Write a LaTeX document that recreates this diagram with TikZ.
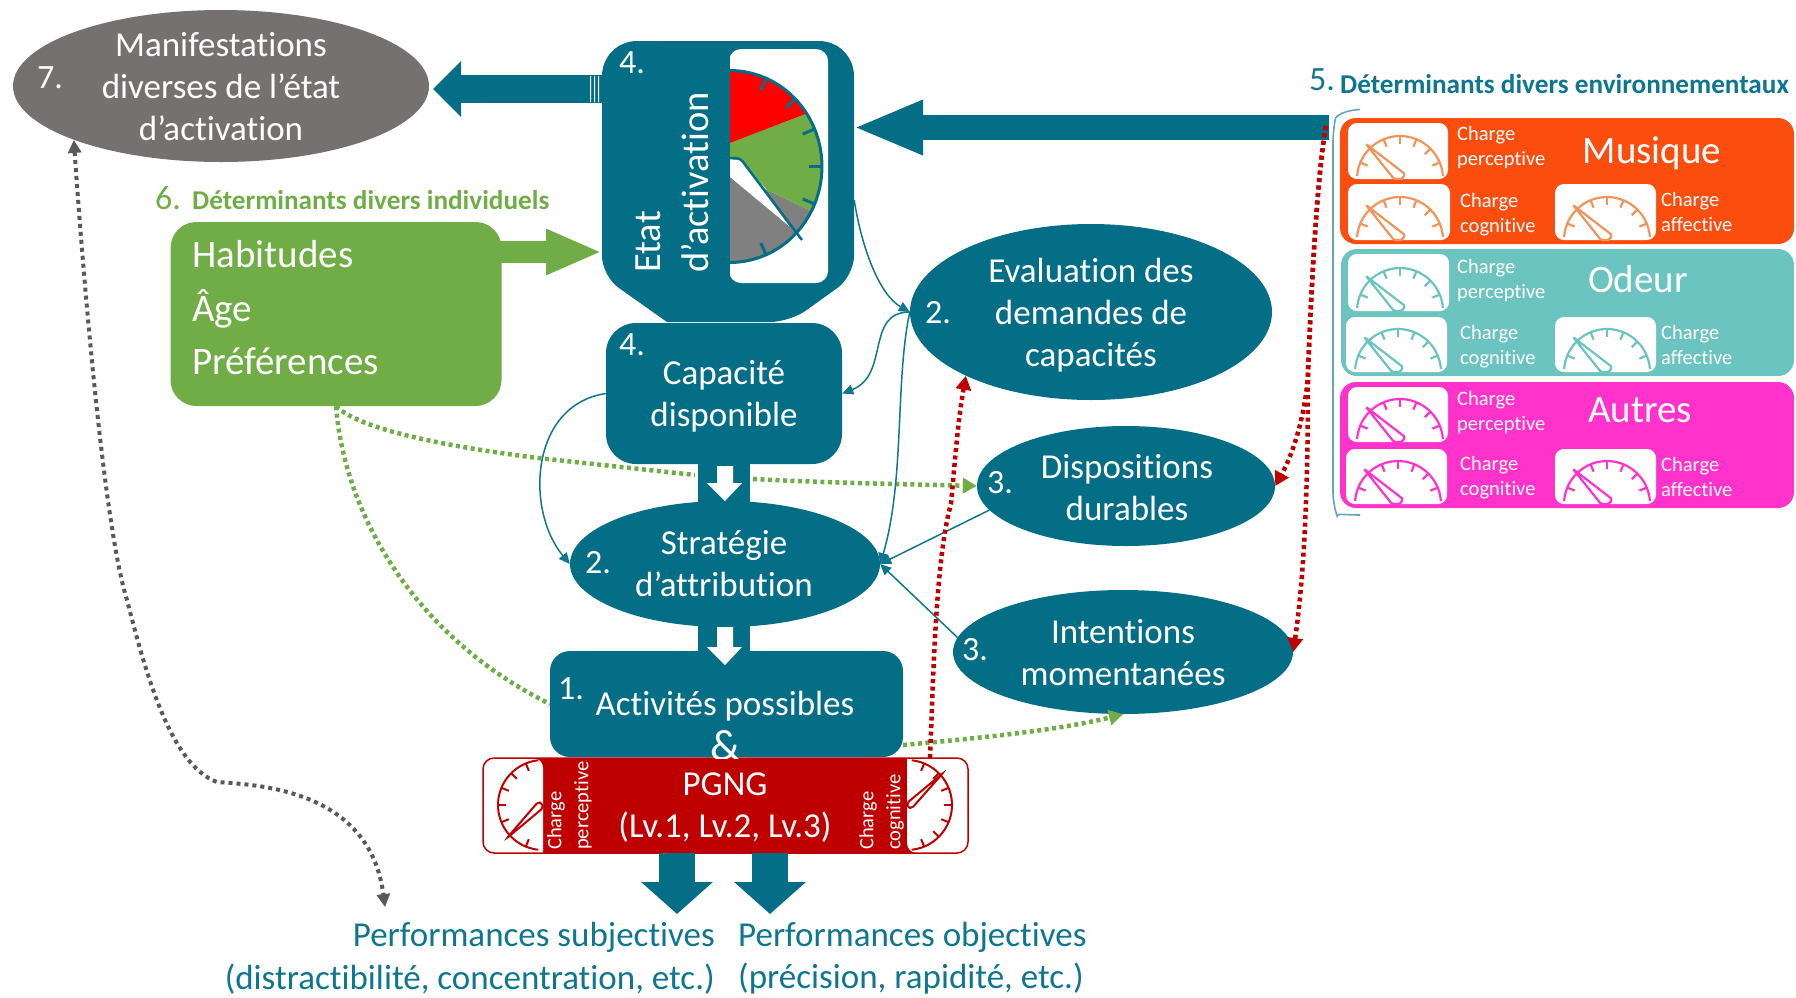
\documentclass[tikz,border=0pt]{standalone}
\usepackage{fontspec}
\setmainfont[Ligatures=NoCommon]{Carlito}
\usetikzlibrary{shapes.geometric,arrows.meta}
\definecolor{tealD}{HTML}{056E87}
\definecolor{tealT}{HTML}{0F7690}
\definecolor{tealL}{HTML}{6CC4C0}
\definecolor{grayE}{HTML}{767171}
\definecolor{greenH}{HTML}{70AD47}
\definecolor{redP}{HTML}{BF0000}
\definecolor{orangeM}{HTML}{FA4D0E}
\definecolor{orangeG}{HTML}{F0955A}
\definecolor{pinkA}{HTML}{FF33CC}
\definecolor{grayD}{HTML}{595959}
\newcommand{\fs}[2]{\fontsize{#1}{#2}\selectfont}
% panel with a half-round dial: x1,y1,x2,y2,colour
\newcommand{\dialpanel}[5]{%
  \fill[white,rounded corners=9] (#1,#2) rectangle (#3,#4);
  \begin{scope}[shift={(#1+52,#4)}]
    \draw[#5,line width=2.2] plot[domain=176:4,samples=30] ({43*cos(\x)},{-43*sin(\x)});
    \foreach \a in {22.5,45,67.5,90,112.5,157.5}
      \draw[#5,line width=2.2] ({43*cos(\a)},{-43*sin(\a)}) -- ({35*cos(\a)},{-35*sin(\a)});
    \draw[#5,line width=2.2,fill=white,rounded corners=1.5] (-34,-35) -- (5,-5) -- (2,0) -- (-6,0) -- cycle;
  \end{scope}}
\tikzset{
  blk/.style={fill=tealD,rounded corners=#1,inner sep=0,text=white},
  ell/.style={ellipse,fill=tealD,inner sep=0,text=white},
  bodytxt/.style={text=white,align=center,font=\fs{35}{42},inner sep=0},
  numtxt/.style={text=white,font=\fs{34}{38},inner sep=0},
  chg/.style={text=white,align=left,anchor=west,font=\fs{20.5}{25},inner sep=0},
  titl/.style={text=white,font=\fs{39}{40},inner sep=0},
  perf/.style={text=tealT,font=\fs{35}{42},inner sep=0},
  thinlink/.style={draw=tealT,line width=1.5,-{Triangle[length=11pt,width=10pt]}},
  reddot/.style={draw=redP,line width=4.5,dash pattern=on 4pt off 3.5pt,-{Triangle[length=14pt,width=15pt]}},
  greendot/.style={draw=greenH,line width=4.5,dash pattern=on 4pt off 3.5pt},
  graydot/.style={draw=grayD,line width=4,dash pattern=on 4pt off 4pt,{Triangle[length=13pt,width=13pt]}-{Triangle[length=13pt,width=13pt]}},
  blockarrow/.style={draw=tealD,line width=#1}
}
\begin{document}
\begin{tikzpicture}[x=1pt,y=-1pt]
\useasboundingbox (0,0) rectangle (1796,997);

% ---- named anchors
\coordinate (etatW) at (602,89);
\coordinate (manifT) at (433,89);
\coordinate (etatE) at (853,127.5);
\coordinate (envS) at (1329,127.5);
\coordinate (habS) at (500,252);
\coordinate (habT) at (602,252);
\coordinate (redS) at (930,758);
\coordinate (actG) at (903,745);
\coordinate (redF) at (1326,126);
\coordinate (brT) at (1360,109.5);
\coordinate (brB) at (1360,515);

% ---- nodes
\node[ell,fill=grayE,minimum width=416,minimum height=152] (manif) at (221,86) {};
\node[rectangle,fill=greenH,rounded corners=26,minimum width=331,minimum height=184,inner sep=0] (hab) at (336,314) {};
\node[ell,minimum width=362,minimum height=176] (eval) at (1091,312) {};
\node[ell,minimum width=298,minimum height=120] (disp) at (1126,486) {};
\node[ell,minimum width=340,minimum height=124] (intent) at (1123,652) {};

% ---- dotted green links (under the central column)
\draw[greendot] (hab.south) .. controls (360,430) and (450,447) .. (538,458) -- (695,475);
\draw[greendot,-{Triangle[length=14pt,width=15pt]}] (753,479) .. controls (830,483) and (900,484) .. (disp.west);
\draw[greendot] (hab.south) .. controls (345,520) and (420,640) .. (550,704);
\draw[greendot,-{Triangle[length=14pt,width=15pt]}] (actG) .. controls (980,738) and (1060,730) .. (intent.south);

% ---- central column
\fill[tealD] (698,460) rectangle (750,506);
\fill[tealD] (698,620) rectangle (750,655);
\node[blk=30,minimum width=236,minimum height=141] (cap) at (724,393.5) {};
\node[ell,minimum width=310,minimum height=126] (strat) at (725,564) {};
\node[blk=20,minimum width=353,minimum height=106] (act) at (726.5,704) {};
\fill[white] (717,466) -- (733,466) -- (733,483) -- (742,483) -- (725,501) -- (707,483) -- (717,483) -- cycle;
\fill[white] (717,627) -- (733,627) -- (733,647) -- (742,647) -- (725,665) -- (707,647) -- (717,647) -- cycle;

% ---- etat d'activation shape
\node[minimum width=252,minimum height=281,inner sep=0] (etat) at (728,181.5) {};
\fill[tealD] [rounded corners=35] (602,200) -- (602,41) -- (854,41) -- (854,200)
  [rounded corners=20] -- (854,276) -- (790,322) [sharp corners] -- (667,322)
  [rounded corners=20] -- (602,276) -- cycle;
\fill[white,rounded corners=12] (729,49) rectangle (828,283);
\fill[tealD] (722,49) rectangle (730,283);
% gauge sectors
\fill[gray] (767,190) -- plot[domain=-27.7:-90,samples=20] ({730+92*cos(\x)},{166.5-96*sin(\x)}) -- (730,177) -- cycle;
\fill[greenH] (730,143) -- plot[domain=33.5:-27.7,samples=20] ({730+92*cos(\x)},{166.5-96*sin(\x)}) -- (767,190) -- (745,165) -- (730,158) -- cycle;
\fill[red] (730,143) -- plot[domain=90:33.5,samples=20] ({730+92*cos(\x)},{166.5-96*sin(\x)}) -- cycle;
\draw[tealD,line width=3] plot[domain=90:-90,samples=40] ({730+92*cos(\x)},{166.5-96*sin(\x)});
\foreach \a in {67,45,23,0,-23,-67}
  \draw[tealD,line width=3] ({730+92*cos(\a)},{166.5-96*sin(\a)}) -- ({730+79*cos(\a)},{166.5-83*sin(\a)});
\fill[white] (730,160) -- (741,160) -- (789,226) -- (730,177) -- cycle;
\draw[tealD,line width=2.5,rounded corners=4] (730,158) -- (740,158) -- (802,240);

% ---- red PGNG box
\node[rectangle,fill=redP,rounded corners=11,minimum width=485,minimum height=95,inner sep=0] (pgng) at (725.5,805.5) {};
\fill[white,rounded corners=10] (483,758) -- (543,758) [sharp corners] -- (543,853) [rounded corners=10] -- (483,853) -- cycle;
\fill[white,rounded corners=10] (907,758) -- (968,758) -- (968,853) -- (907,853) [sharp corners] -- cycle;
\draw[redP,line width=1.5,rounded corners=11] (483,758) rectangle (968,853);
\begin{scope}[shift={(543,805)}]
  \draw[redP,line width=2] plot[domain=96:264,samples=30] ({45*cos(\x)},{-45*sin(\x)});
  \foreach \a in {112.5,135,157.5,180,202.5,247.5}
    \draw[redP,line width=2] ({45*cos(\a)},{-45*sin(\a)}) -- ({37*cos(\a)},{-37*sin(\a)});
  \draw[redP,line width=2,fill=white,rounded corners=2] (-36,33) -- (-5,-3) -- (-1,-2) -- (0,3) -- cycle;
\end{scope}
\begin{scope}[shift={(907,805)}]
  \draw[redP,line width=2] plot[domain=84:-84,samples=30] ({45*cos(\x)},{-45*sin(\x)});
  \foreach \a in {67.5,45,22.5,0,-22.5,-45,-67.5}
    \draw[redP,line width=2] ({45*cos(\a)},{-45*sin(\a)}) -- ({37*cos(\a)},{-37*sin(\a)});
  \draw[redP,line width=2,fill=white,rounded corners=2] (36,-32) -- (5,3) -- (1,3) -- (0,-2) -- cycle;
\end{scope}

% ---- right blocks
\node[rectangle,fill=orangeM,rounded corners=16,minimum width=454,minimum height=126,inner sep=0] (bm) at (1567,181) {};
\node[rectangle,fill=tealL,rounded corners=16,minimum width=453,minimum height=127,inner sep=0] (bo) at (1567.5,312.5) {};
\node[rectangle,fill=pinkA,rounded corners=16,minimum width=454,minimum height=126,inner sep=0] (ba) at (1567,445) {};
\dialpanel{1348}{123}{1448}{179}{orangeG}
\dialpanel{1348}{184}{1450}{240}{orangeG}
\dialpanel{1555}{184}{1656}{240}{orangeG}
\dialpanel{1348}{254}{1449}{311}{tealL}
\dialpanel{1346}{317}{1447}{372}{tealL}
\dialpanel{1555}{317}{1656}{372}{tealL}
\dialpanel{1348}{387}{1448}{442}{pinkA}
\dialpanel{1346}{449}{1447}{504}{pinkA}
\dialpanel{1555}{449}{1656}{504}{pinkA}

% ---- block arrows
\draw[blockarrow=28,-{Triangle[length=28pt,width=54pt]}] (etatW) -- (manifT);
\fill[white] (590,76) rectangle (591,102) (594,76) rectangle (595,102) (598,76) rectangle (599,102);
\draw[blockarrow=25,-{Triangle[length=70pt,width=50pt]}] (envS) -- (etatE);
\draw[draw=greenH,line width=22,-{Triangle[length=56pt,width=42pt]}] (habS) -- (habT);
\coordinate (d1) at (677,853); \coordinate (d1t) at (677,914);
\coordinate (d2) at (770,853); \coordinate (d2t) at (770,914);
\draw[blockarrow=36,-{Triangle[length=32pt,width=70pt]}] (d1) -- (d1t);
\draw[blockarrow=36,-{Triangle[length=32pt,width=70pt]}] (d2) -- (d2t);

% ---- thin links
\draw[thinlink] (etat.east |- 0,200) .. controls (862,250) and (880,295) .. (eval.west);
\draw[thinlink] (eval.west) .. controls (865,312) and (890,375) .. (cap.east);
\draw[thinlink] (eval.west) .. controls (895,380) and (905,480) .. (strat.east);
\draw[thinlink] (cap.west) .. controls (530,405) and (525,510) .. (strat.west);
\draw[thinlink] (disp.190) -- (strat.east);
\draw[thinlink] (intent.175) -- (strat.east);

% ---- brace
\draw[draw=tealT!65,line width=1.6,rounded corners=12] (brT) .. controls (1345,110) and (1336,116) .. (1333,130) -- (1333,505) .. controls (1336,513) and (1345,515) .. (brB);

% ---- red dotted links
\draw[reddot] (redF) .. controls (1316,180) and (1310,320) .. (1308,373) .. controls (1306,410) and (1295,450) .. (disp.east);
\draw[reddot] (redF) .. controls (1316,180) and (1310,320) .. (1308,373) .. controls (1308,480) and (1305,570) .. (intent.east);
\draw[reddot] (redS) .. controls (933,690) and (935,560) .. (951,504) .. controls (955,460) and (958,420) .. (eval.207);

% ---- gray dotted link
\draw[graydot] (manif.south west) .. controls (85,300) and (105,530) .. (127,600) .. controls (145,670) and (170,765) .. (217,782) .. controls (260,785) and (370,790) .. (385,907);

% ---- texts
\node[bodytxt] (tm) at (221,87) {Manifestations\\diverses de l’état\\d’activation};
\node[numtxt] (n7) at (50,78) {7.};
\node[numtxt] (n4a) at (632,63) {4.};
\node[bodytxt,font=\fs{38.5}{42},rotate=90,anchor=west] (t1) at (648,273) {Etat};
\node[bodytxt,font=\fs{38.5}{42},rotate=90,anchor=west] (t2) at (695,273) {d’activation};
\node[bodytxt] (tc) at (724,396) {Capacité\\disponible};
\node[numtxt] (n4b) at (632,345) {4.};
\node[bodytxt] (te) at (1091,315) {Evaluation des\\demandes de\\capacités};
\node[numtxt] (n2a) at (938,313) {2.};
\node[bodytxt] (td) at (1127,488) {Dispositions\\durables};
\node[numtxt] (n3a) at (1000,483) {3.};
\node[bodytxt] (ti) at (1123,653) {Intentions\\momentanées};
\node[numtxt] (n3b) at (975,650) {3.};
\node[bodytxt] (ts) at (724,564) {Stratégie\\d’attribution};
\node[numtxt] (n2b) at (598,563) {2.};
\node[bodytxt] (ta) at (725,706) {Activités possibles};
\node[numtxt] (n1) at (571,689) {1.};
\begin{scope}
  \clip (500,700) rectangle (950,758);
  \node[bodytxt,font=\fs{44}{44}] (tamp) at (725,746) {\&};
\end{scope}
\node[bodytxt] (tp) at (725,808) {PGNG\\(Lv.1, Lv.2, Lv.3)};
\node[chg,rotate=90,anchor=west] (r1) at (556,850) {Charge};
\node[chg,rotate=90,anchor=west] (r2) at (583,850) {perceptive};
\node[chg,rotate=90,anchor=west] (r3) at (868,850) {Charge};
\node[chg,rotate=90,anchor=west] (r4) at (895,850) {cognitive};

\node[text=white,align=left,anchor=west,font=\fs{39}{53.5},inner sep=0] (th) at (192,308) {Habitudes\\Âge\\Préférences};
\node[text=greenH,anchor=west,font=\fs{34}{34},inner sep=0] (n6) at (155,198) {6.};
\node[text=greenH,anchor=west,font=\bfseries\fs{27.2}{28},inner sep=0] (t6) at (192,200) {Déterminants divers individuels};
\node[text=tealT,anchor=west,font=\fs{34}{34},inner sep=0] (n5) at (1309,80) {5.};
\node[text=tealT,anchor=west,font=\bfseries\fs{27.2}{28},inner sep=0] (t5) at (1340,84) {Déterminants divers environnementaux};

\node[titl] (tmu) at (1652,153) {Musique};
\node[titl] (tod) at (1638,279) {Odeur};
\node[titl] (tau) at (1640,410) {Autres};
\node[chg] (c1) at (1457,148) {Charge\\perceptive};
\node[chg] (c2) at (1460,215) {Charge\\cognitive};
\node[chg] (c3) at (1661,212) {Charge\\affective};
\node[chg] (c4) at (1457,281) {Charge\\perceptive};
\node[chg] (c5) at (1460,347) {Charge\\cognitive};
\node[chg] (c6) at (1661,345) {Charge\\affective};
\node[chg] (c7) at (1457,413) {Charge\\perceptive};
\node[chg] (c8) at (1460,478) {Charge\\cognitive};
\node[chg] (c9) at (1661,477) {Charge\\affective};

\node[perf,anchor=east] (p1) at (715,937) {Performances subjectives};
\node[perf,anchor=east] (p2) at (715,979) {(distractibilité, concentration, etc.)};
\node[perf,anchor=west] (p3) at (738,937) {Performances objectives};
\node[perf,anchor=west] (p4) at (738,979) {(précision, rapidité, etc.)};
\end{tikzpicture}
\end{document}
